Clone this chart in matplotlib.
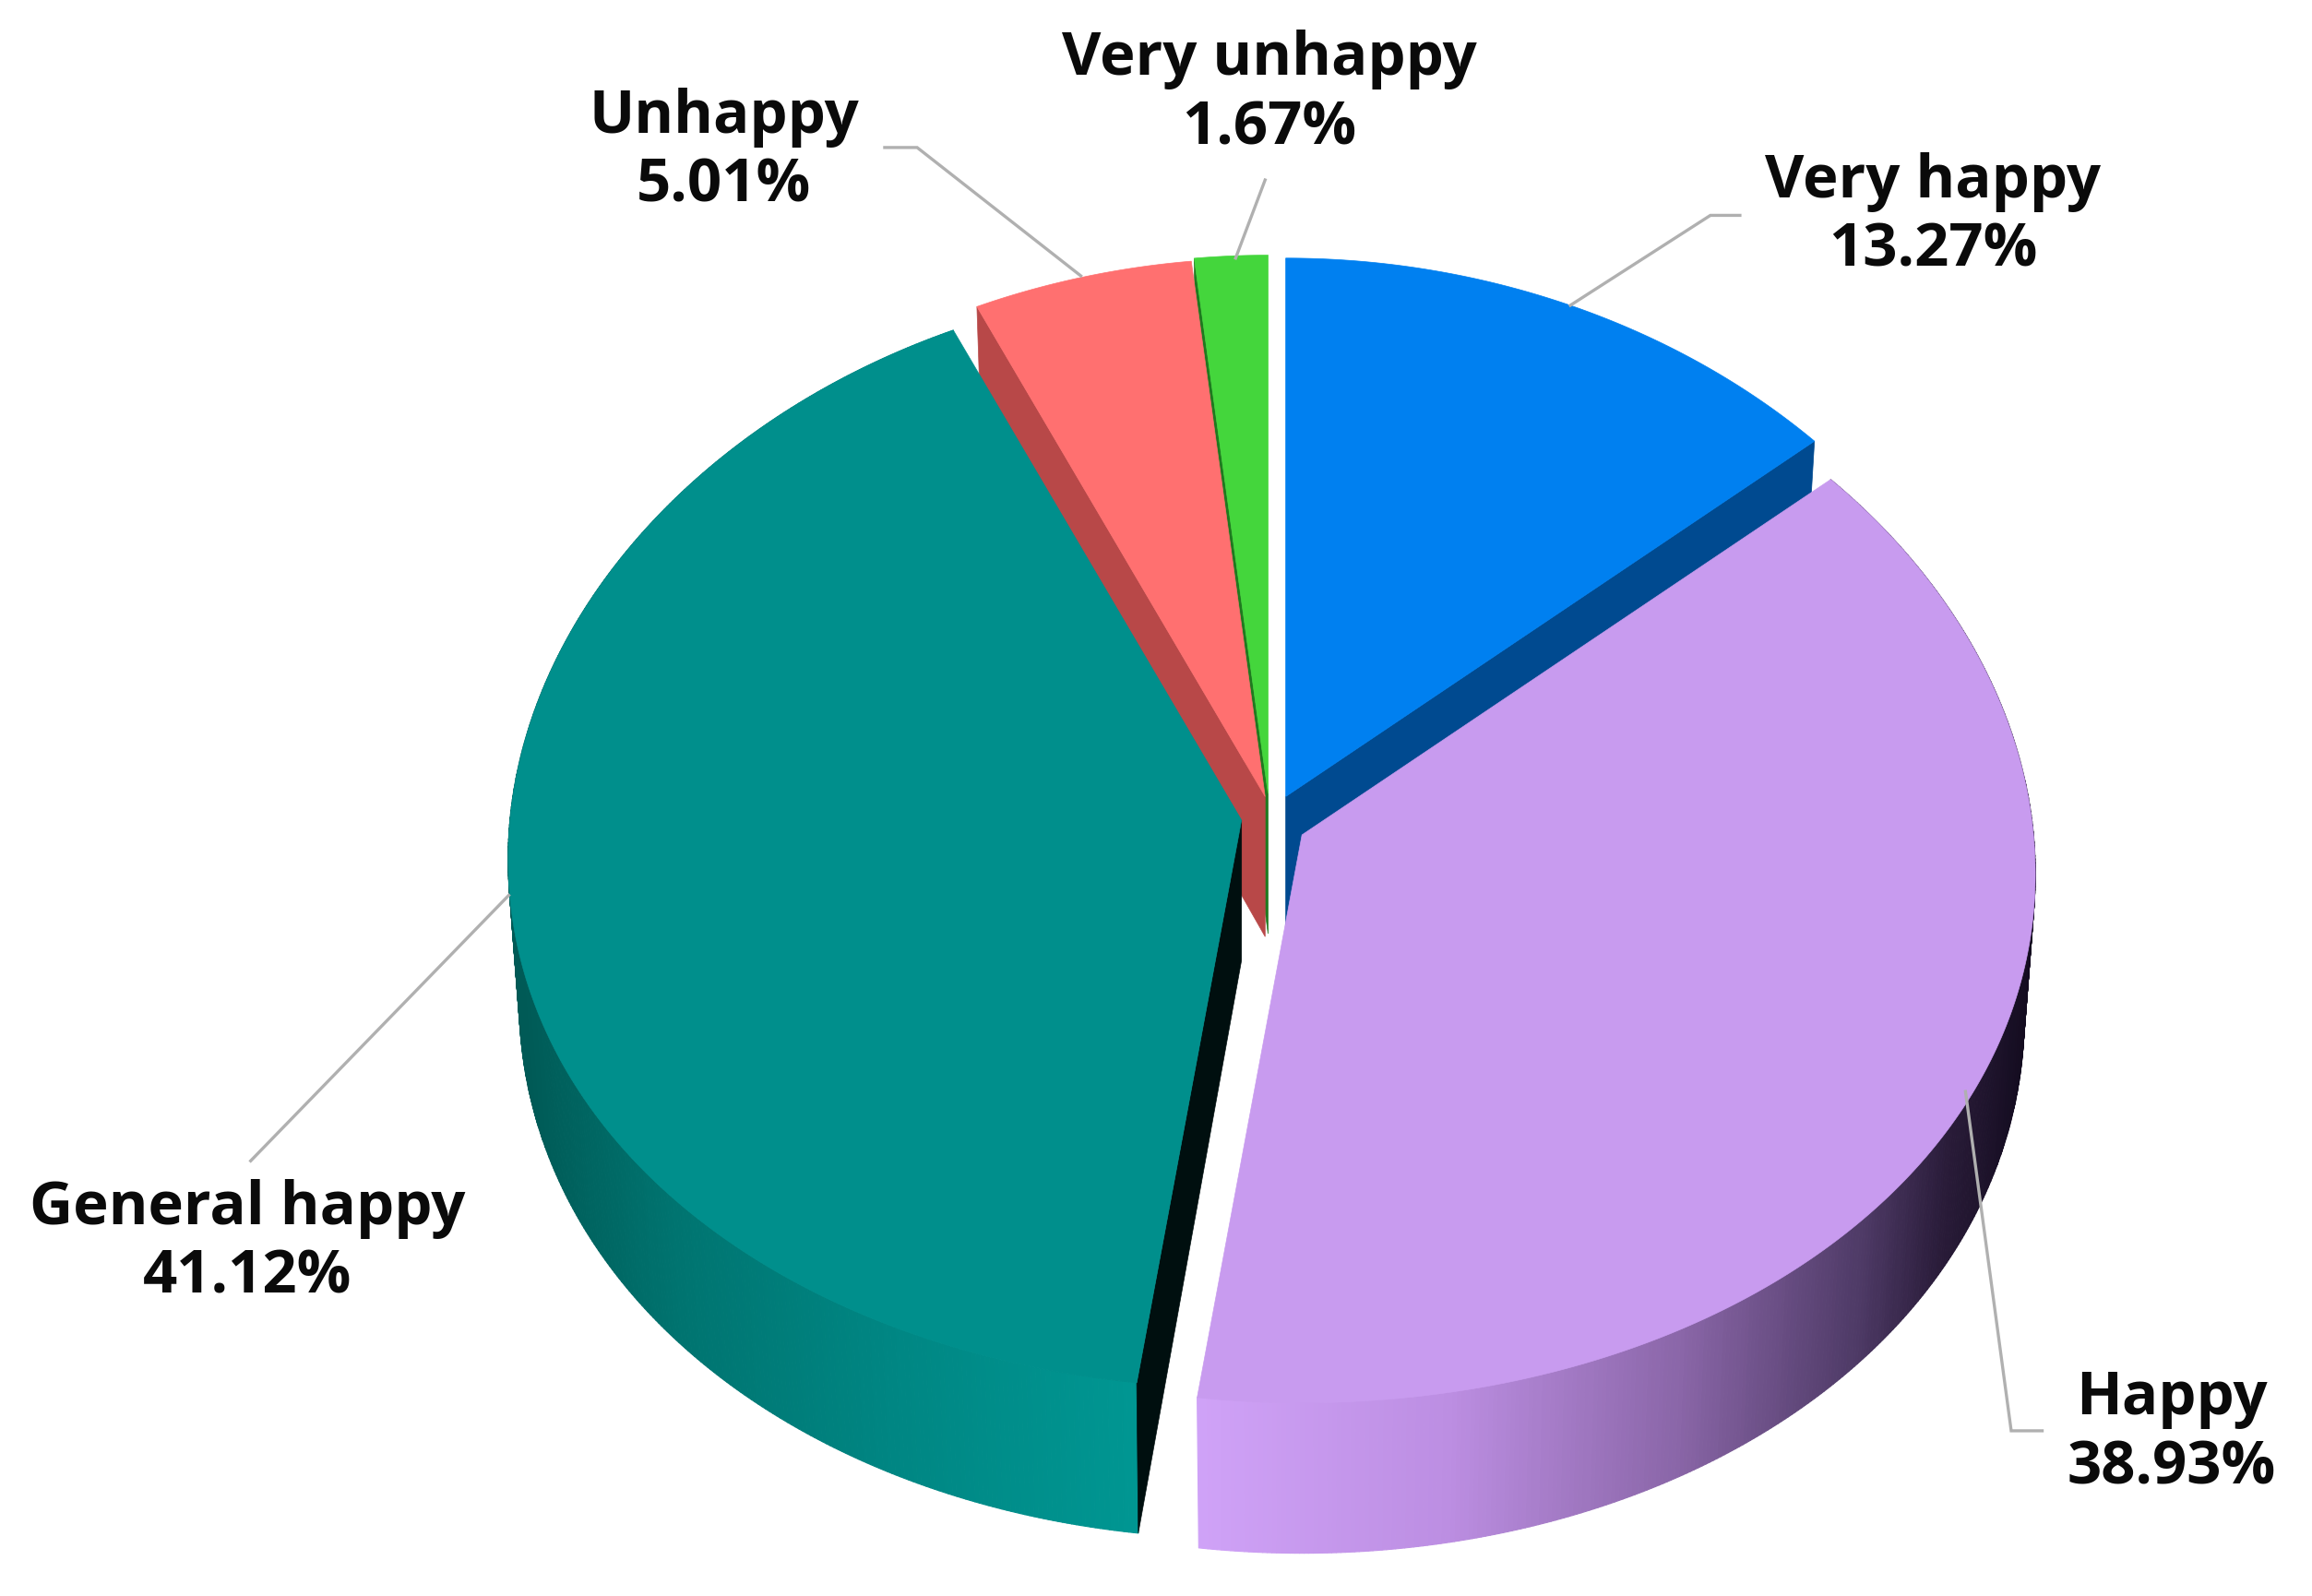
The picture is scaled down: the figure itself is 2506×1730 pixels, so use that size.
import numpy as np
import matplotlib
matplotlib.use("Agg")
import matplotlib.pyplot as plt
from matplotlib.patches import Polygon
from matplotlib.collections import PolyCollection
from matplotlib.colors import LinearSegmentedColormap

categories = ["Very happy", "Happy", "General happy", "Unhappy", "Very unhappy"]
values = [13.27, 38.93, 41.12, 5.01, 1.67]
value_labels = ["13.27%", "38.93%", "41.12%", "5.01%", "1.67%"]

top_colors = ["#0080F0", "#C89BEF", "#008F8C", "#FF7070", "#44D63C"]
face_colors = ["#004A90", "#C89BEF", "#000F0F", "#B84848", "#1F7A1F"]
apex_x = [872, 883, 842, 858, 860]
apex_y = [540, 566, 556, 540, 538]
draw_order = [0, 4, 3, 2, 1]

label_pos = [(1311, 147), (1473, 972), (168, 843), (491, 103), (861, 64)]
leaders = [
    [(1065, 207), (1160, 146), (1180, 146)],
    [(1333, 740), (1364, 970), (1385, 970)],
    [(170, 787), (345, 607)],
    [(600, 100), (622, 100), (733, 187)],
    [(858, 122), (838, 175)],
]

W, H = 1568, 1082
fig = plt.figure(figsize=(25.06, 17.30), dpi=100, facecolor="white")
ax = fig.add_axes([0, 0, 1, 1])
ax.set_xlim(0, W)
ax.set_ylim(H, 0)
ax.axis("off")

wall_maps = {
    1: LinearSegmentedColormap.from_list("h", [(0, "#CFA2F7"), (0.3, "#BC8EE2"), (0.58, "#8A66A8"),
                                               (0.8, "#4E3A66"), (0.9, "#2A1C3A"), (1, "#140C20")]),
    2: LinearSegmentedColormap.from_list("g", [(0, "#005A56"), (0.25, "#007470"), (0.6, "#008683"), (1, "#009692")]),
}
wall_span = {1: (815, 1378), 2: (352, 770)}


def rim(t, ax0, ay0):
    """Projected rim point; t is clockwise from the top of the pie (radians)."""
    u, v = np.sin(t), np.cos(t)
    x = ax0 + u * (497 - 19 * v)
    y = ay0 - 375 * v + 10 * v ** 2 + 12 * (1 - v ** 2)
    return x, y


def floor(t, ax0, ay0):
    x, y = rim(t, ax0, ay0)
    return ax0 + (x - ax0) * 0.985, y + 95 - 7 * np.cos(t)


fractions = np.array(values) / np.sum(values) * 2 * np.pi
ends = np.cumsum(fractions)
starts = ends - fractions

for i in draw_order:
    ax0, ay0 = apex_x[i], apex_y[i]
    t = np.linspace(starts[i], ends[i], 400)
    x, y = rim(t, ax0, ay0)
    bx, by = floor(t, ax0, ay0)

    if i in wall_maps:
        lo, hi = wall_span[i]
        strips, colors = [], []
        for k in range(len(t) - 1):
            strips.append([(x[k], y[k]), (x[k + 1], y[k + 1]), (bx[k + 1], by[k + 1]), (bx[k], by[k])])
            colors.append(wall_maps[i](np.clip((x[k] - lo) / (hi - lo), 0, 1)))
        ax.add_collection(PolyCollection(strips, facecolors=colors, edgecolors=colors, linewidths=0.8))

    # radial cut face, seen from the front
    if i in (0, 2, 3, 4):
        a = ends[i] if i == 0 else starts[i]
        ox, oy = rim(a, ax0, ay0)
        fx, fy = floor(a, ax0, ay0)
        ax.add_patch(Polygon([(ax0, ay0), (ox, oy), (fx, fy), (ax0, ay0 + 95)],
                             closed=True, fc=face_colors[i], ec=face_colors[i], lw=0.5))

    ax.add_patch(Polygon(np.r_[[(ax0, ay0)], np.c_[x, y]], closed=True,
                         fc=top_colors[i], ec=top_colors[i], lw=0.5))

for pts in leaders:
    p = np.array(pts)
    ax.plot(p[:, 0], p[:, 1], color="#B0B0B0", lw=2.4, solid_joinstyle="miter")

for name, val, (lx, ly) in zip(categories, value_labels, label_pos):
    ax.text(lx, ly, f"{name}\n{val}", ha="center", va="center", family="Open Sans",
            fontweight="bold", fontsize=47, color="#0A0A0A", linespacing=1.2)

fig.savefig("out.png", dpi=100, facecolor="white")
